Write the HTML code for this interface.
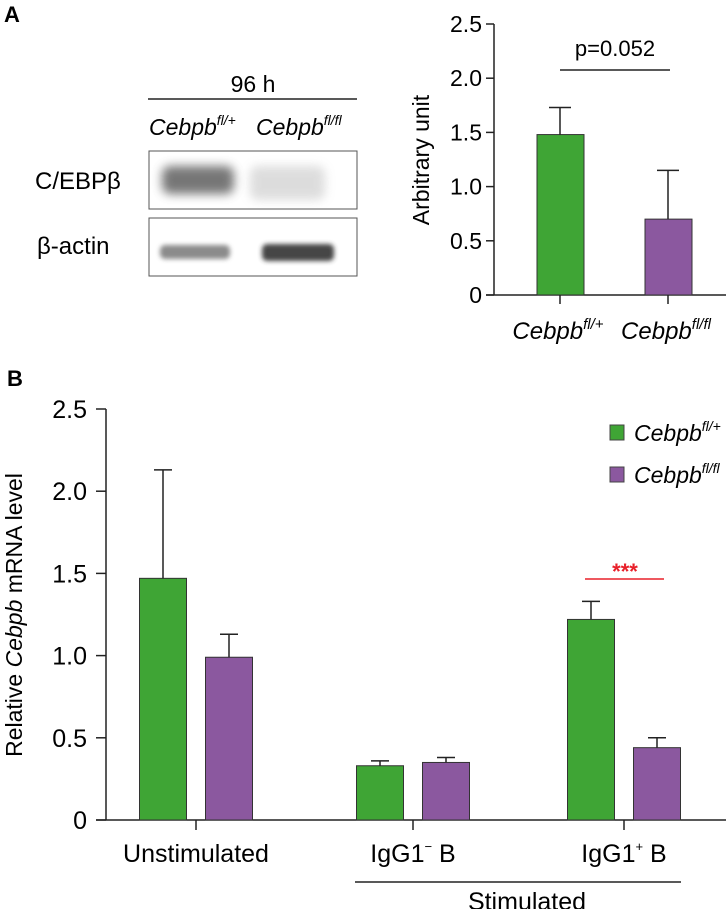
<!DOCTYPE html>
<html><head><meta charset="utf-8"><style>
body{margin:0;background:#fff}
svg{display:block;font-family:"Liberation Sans",sans-serif}
</style></head><body>
<svg width="726" height="909" viewBox="0 0 726 909">
<defs>
<filter id="blur" x="-30%" y="-60%" width="160%" height="220%"><feGaussianBlur stdDeviation="5"/></filter>
<filter id="blur2" x="-30%" y="-60%" width="160%" height="220%"><feGaussianBlur stdDeviation="2.5"/></filter>
</defs>
<text x="4" y="22" font-size="22" font-weight="bold">A</text>
<text x="253" y="92" font-size="23" text-anchor="middle">96 h</text>
<line x1="148" y1="99" x2="357" y2="99" stroke="#222" stroke-width="1.5"/>
<text x="149" y="135" font-size="23" font-style="italic">Cebpb<tspan font-size="14" dy="-10">fl/+</tspan></text>
<text x="256" y="135" font-size="23" font-style="italic">Cebpb<tspan font-size="14" dy="-10">fl/fl</tspan></text>
<text x="35" y="189" font-size="24">C/EBPβ</text>
<text x="37" y="254" font-size="24">β-actin</text>
<g>
<rect x="149" y="151" width="208" height="58" fill="#fff" stroke="#555" stroke-width="1"/>
<rect x="162" y="166" width="72" height="28" rx="8" fill="#555" opacity="0.8" filter="url(#blur)"/>
<rect x="250" y="166" width="75" height="34" rx="8" fill="#aaa" opacity="0.4" filter="url(#blur)"/>
</g>
<g>
<rect x="149" y="218" width="208" height="58" fill="#fff" stroke="#555" stroke-width="1"/>
<rect x="160" y="245" width="70" height="14" rx="5" fill="#777" opacity="0.85" filter="url(#blur2)"/>
<rect x="262" y="244" width="72" height="17" rx="5" fill="#333" opacity="0.9" filter="url(#blur2)"/>
</g>
<g id="chartA"></g>
<text x="7" y="386" font-size="22" font-weight="bold">B</text>
<g id="chartB"></g>
</svg>
<script>
const ticksA = [0, 0.5, 1.0, 1.5, 2.0, 2.5];
const tickLabelsA = ["0", "0.5", "1.0", "1.5", "2.0", "2.5"];
const valuesA = [1.48, 0.70];
const errorsA = [1.73, 1.15];
const ticksB = [0, 0.5, 1.0, 1.5, 2.0, 2.5];
const tickLabelsB = ["0", "0.5", "1.0", "1.5", "2.0", "2.5"];
const categoriesB = ["Unstimulated", "IgG1", "IgG1"];
const catSupB = ["", "−", "+"];
const flPlusB = [1.47, 0.33, 1.22];
const flPlusErrB = [2.13, 0.36, 1.33];
const flFlB = [0.99, 0.35, 0.44];
const flFlErrB = [1.13, 0.38, 0.50];
const GREEN = "#3fa535", PURPLE = "#8b589f";
const NS = "http://www.w3.org/2000/svg";
function mk(parent, tag, attrs, text) {
  const e = document.createElementNS(NS, tag);
  for (const k in attrs) e.setAttribute(k, attrs[k]);
  if (text !== undefined) e.textContent = text;
  parent.appendChild(e);
  return e;
}
// Chart A
const gA = document.getElementById('chartA');
const yA = v => 295 - v * (271 / 2.5);
let e = mk(gA, 'line', {x1: 494, y1: yA(2.5), x2: 494, y2: 295, stroke: '#222', 'stroke-width': 1.5});
 
e = mk(gA, 'line', {x1: 486, y1: 295, x2: 726, y2: 295, stroke: '#222', 'stroke-width': 1.5});
 
ticksA.forEach((t, i) => {
  let l = mk(gA, 'line', {x1: 486, y1: yA(t), x2: 494, y2: yA(t), stroke: '#222', 'stroke-width': 1.5});
   
  let tx = mk(gA, 'text', {x: 482, y: yA(t) + 8, 'font-size': 23, 'text-anchor': 'end'}, tickLabelsA[i]);
   
});
e = mk(gA, 'text', {x: 0, y: 0, 'font-size': 23, 'text-anchor': 'middle', transform: 'translate(429,160) rotate(-90)'}, 'Arbitrary unit');
 
const xA = [560, 668];
const labA = ['fl/+', 'fl/fl'];
valuesA.forEach((v, i) => {
  let r = mk(gA, 'rect', {x: xA[i] - 23, y: yA(v), width: 47, height: 295 - yA(v), fill: i ? PURPLE : GREEN, stroke: '#333', 'stroke-width': 1});
   
  let l = mk(gA, 'path', {d: `M${xA[i]},${yA(v)}V${yA(errorsA[i])}M${xA[i]-11},${yA(errorsA[i])}H${xA[i]+11}`, stroke: '#222', 'stroke-width': 1.5, fill: 'none'});
   
  let tk = mk(gA, 'line', {x1: xA[i], y1: 295, x2: xA[i], y2: 304, stroke: '#222', 'stroke-width': 1.5});
   
  let tx = mk(gA, 'text', {x: xA[i] - 2, y: 339, 'font-size': 24, 'font-style': 'italic', 'text-anchor': 'middle'});
   
  tx.innerHTML = 'Cebpb<tspan font-size="15" dy="-10">' + labA[i] + '</tspan>';
});
e = mk(gA, 'line', {x1: 560, y1: 70, x2: 670, y2: 70, stroke: '#222', 'stroke-width': 1.5});
 
e = mk(gA, 'text', {x: 615, y: 56, 'font-size': 22, 'text-anchor': 'middle'}, 'p=0.052');
 
// Chart B
const gB = document.getElementById('chartB');
const yB = v => 820 - v * (411 / 2.5);
e = mk(gB, 'line', {x1: 106, y1: yB(2.5), x2: 106, y2: 820, stroke: '#222', 'stroke-width': 1.5});
 
e = mk(gB, 'line', {x1: 96, y1: 820, x2: 726, y2: 820, stroke: '#222', 'stroke-width': 1.5});
 
ticksB.forEach((t, i) => {
  let l = mk(gB, 'line', {x1: 96, y1: yB(t), x2: 106, y2: yB(t), stroke: '#222', 'stroke-width': 1.5});
   
  let tx = mk(gB, 'text', {x: 87, y: yB(t) + 9, 'font-size': 25, 'text-anchor': 'end'}, tickLabelsB[i]);
   
});
e = mk(gB, 'text', {x: 0, y: 0, 'font-size': 23, 'text-anchor': 'middle', transform: 'translate(22,615) rotate(-90)'});
 
e.innerHTML = 'Relative <tspan font-style="italic">Cebpb</tspan> mRNA level';
const xB = [196, 413, 624];
categoriesB.forEach((c, i) => {
  [[flPlusB, flPlusErrB, GREEN, -33, 'fl-plus'], [flFlB, flFlErrB, PURPLE, 33, 'fl-fl']].forEach(s => {
    const cx = xB[i] + s[3], v = s[0][i], er = s[1][i];
    let r = mk(gB, 'rect', {x: cx - 23.5, y: yB(v), width: 47, height: 820 - yB(v), fill: s[2], stroke: '#333', 'stroke-width': 1});
     
    let l = mk(gB, 'path', {d: `M${cx},${yB(v)}V${yB(er)}M${cx-9},${yB(er)}H${cx+9}`, stroke: '#222', 'stroke-width': 1.5, fill: 'none'});
     
  });
  let tk = mk(gB, 'line', {x1: xB[i], y1: 820, x2: xB[i], y2: 830, stroke: '#222', 'stroke-width': 1.5});
   
  let tx = mk(gB, 'text', {x: xB[i], y: 862, 'font-size': 25, 'text-anchor': 'middle'}, c);
   
  if (catSupB[i]) {
    tx.innerHTML = c + '<tspan font-size="13" dy="-11">' + catSupB[i] + '</tspan><tspan dy="11"> B</tspan>';
  }
});
e = mk(gB, 'line', {x1: 355, y1: 882, x2: 681, y2: 882, stroke: '#222', 'stroke-width': 1.5});
 
e = mk(gB, 'text', {x: 527, y: 910, 'font-size': 25, 'text-anchor': 'middle'}, 'Stimulated');
 
e = mk(gB, 'line', {x1: 585, y1: 579, x2: 664, y2: 579, stroke: '#e8202a', 'stroke-width': 1.5});
 
e = mk(gB, 'text', {x: 625, y: 579, 'font-size': 22, 'font-weight': 'bold', fill: '#e8202a', 'text-anchor': 'middle'}, '***');
 
[[GREEN, 'fl/+', 425], [PURPLE, 'fl/fl', 467]].forEach(s => {
  let r = mk(gB, 'rect', {x: 610, y: s[2], width: 14, height: 15, fill: s[0], stroke: '#444', 'stroke-width': 1});
   
  let tx = mk(gB, 'text', {x: 634, y: s[2] + 16, 'font-size': 23, 'font-style': 'italic'});
   
  tx.innerHTML = 'Cebpb<tspan font-size="14" dy="-10">' + s[1] + '</tspan>';
});
</script>
</body></html>
